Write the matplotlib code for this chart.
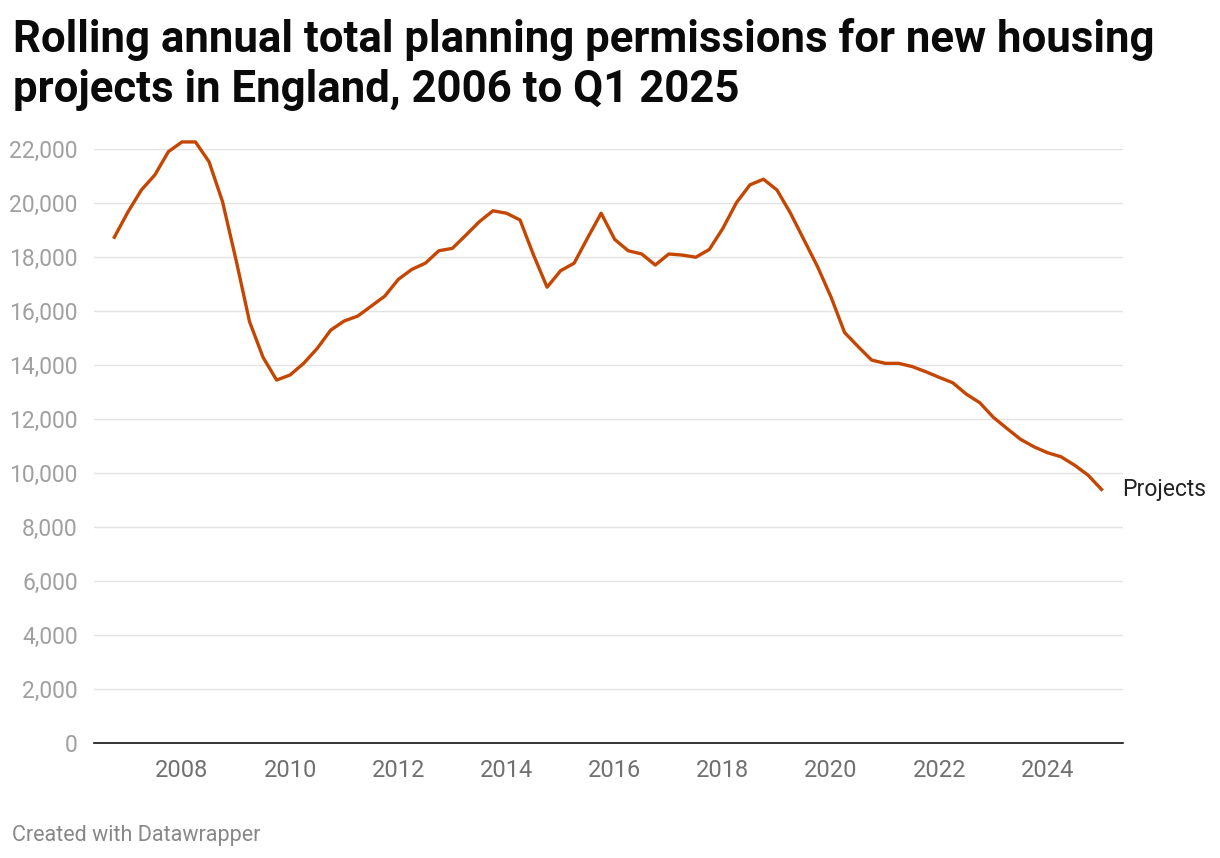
import numpy as np
import matplotlib
matplotlib.use("Agg")
import matplotlib.pyplot as plt
from matplotlib.ticker import FuncFormatter

plt.rcParams['font.family'] = ['Roboto', 'DejaVu Sans']

# Quarterly rolling annual totals, 2006 Q4 to 2025 Q1
start_year = 2006
start_quarter = 4
projects = [18720, 19650, 20470, 21030, 21890, 22250, 22250, 21520, 20040, 17880,
            15590, 14270, 13430, 13620, 14050, 14600, 15280, 15620, 15800, 16170,
            16540, 17160, 17530, 17760, 18220, 18310, 18800, 19300, 19700, 19610,
            19360, 18060, 16870, 17480, 17760, 18700, 19610, 18640, 18220, 18100,
            17690, 18100, 18060, 17980, 18270, 19050, 20000, 20660, 20870, 20470,
            19610, 18620, 17630, 16500, 15190, 14670, 14170, 14050, 14050, 13930,
            13740, 13530, 13330, 12910, 12590, 12050, 11640, 11240, 10960, 10740,
            10590, 10280, 9910, 9380]

yticks = list(range(0, 22001, 2000))
xticks = list(range(2008, 2025, 2))

# decimal year of each quarter
t = [start_year + (start_quarter - 1 + i) / 4 for i in range(len(projects))]

fig = plt.figure(figsize=(12.2, 8.58), dpi=100)
ax = fig.add_axes([0.0773, 0.1344, 0.8429, 0.6923])

ax.plot(t, projects, color='#c44601', lw=2.4, clip_on=False, zorder=3)
ax.text(t[-1] + 0.38, projects[-1], 'Projects', fontsize=16.5, color='#222222', va='center', ha='left')

ax.set_xlim(2006.38, 2025.39)
ax.set_ylim(0, 22000)
ax.set_yticks(yticks)
ax.set_xticks(xticks)
ax.yaxis.set_major_formatter(FuncFormatter(lambda v, p: f"{int(v):,}"))
ax.grid(axis='y', color='#e3e3e3', lw=1.0, zorder=0)
for s in ['top', 'right', 'left']:
    ax.spines[s].set_visible(False)
ax.spines['bottom'].set_color('#111111')
ax.spines['bottom'].set_linewidth(1.2)
ax.spines['bottom'].set_zorder(4)
ax.tick_params(axis='y', length=0, pad=12, labelsize=16.5, labelcolor='#a0a0a0')
ax.tick_params(axis='x', length=0, pad=12, labelsize=17, labelcolor='#707070')

fig.text(0.0104, 1 - 102 / 858, "Rolling annual total planning permissions for new housing\nprojects in England, 2006 to Q1 2025",
         fontsize=31.5, fontweight='bold', color='#0a0a0a', va='baseline', ha='left', linespacing=1.24)
fig.text(0.0096, 1 - 835 / 858, "Created with Datawrapper", fontsize=15.5, color='#888888', va='center', ha='left')

plt.savefig("out.png", dpi=100)
